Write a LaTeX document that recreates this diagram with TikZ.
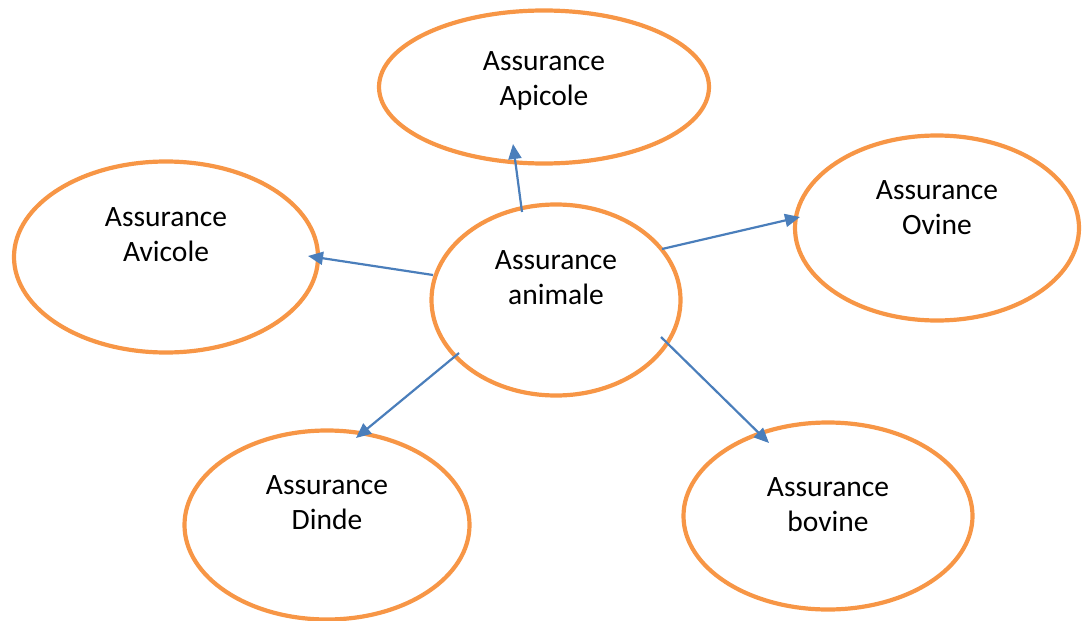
\documentclass[tikz,border=0pt]{standalone}
\usepackage{fontspec}
\setmainfont{Carlito}
\usetikzlibrary{shapes.geometric,arrows.meta}
\definecolor{bubble}{HTML}{F79646}
\definecolor{link}{HTML}{4A7EBB}
\tikzset{
  bubble/.style={ellipse, draw=bubble, line width=4.2pt, inner sep=0pt},
  lbl/.style={anchor=base, inner sep=0pt, font=\fontsize{29.5}{35}\selectfont},
  link/.style={draw=link, line width=2.2pt, -{Triangle[length=15pt,width=13pt]}}
}
\begin{document}
\begin{tikzpicture}[x=1pt,y=-1pt]
\useasboundingbox (0,0) rectangle (1082,621);

% bubbles
\node[bubble, minimum width=249pt, minimum height=191pt] (animale) at (556,300) {};
\node[bubble, minimum width=330pt, minimum height=153pt] (apicole) at (544,87) {};
\node[bubble, minimum width=304pt, minimum height=191pt] (avicole) at (166,257) {};
\node[bubble, minimum width=284pt, minimum height=185pt] (ovine) at (937,228) {};
\node[bubble, minimum width=285pt, minimum height=189pt] (dinde) at (327,525) {};
\node[bubble, minimum width=289pt, minimum height=187pt] (bovine) at (828,516) {};

% labels, two lines each
\node[lbl] (animaleA) at (556,269) {Assurance};
\node[lbl] (animaleB) at (556,304) {animale};
\node[lbl] (apicoleA) at (544,70) {Assurance};
\node[lbl] (apicoleB) at (544,105) {Apicole};
\node[lbl] (avicoleA) at (166,226) {Assurance};
\node[lbl] (avicoleB) at (166,261) {Avicole};
\node[lbl] (ovineA) at (937,199) {Assurance};
\node[lbl] (ovineB) at (937,234) {Ovine};
\node[lbl] (dindeA) at (327,494) {Assurance};
\node[lbl] (dindeB) at (327,529) {Dinde};
\node[lbl] (bovineA) at (828,496) {Assurance};
\node[lbl] (bovineB) at (828,531) {bovine};

% arrow ends
\coordinate (tApi) at (522,212);  \coordinate (hApi) at (513,144);
\coordinate (tAvi) at (433,275);  \coordinate (hAvi) at (308,256);
\coordinate (tOvi) at (662,249);  \coordinate (hOvi) at (800,217);
\coordinate (tDin) at (459,353);  \coordinate (hDin) at (356,438);
\coordinate (tBov) at (661,337);  \coordinate (hBov) at (769,443);

\draw[link] (tApi) -- (hApi);
\draw[link] (tAvi) -- (hAvi);
\draw[link] (tOvi) -- (hOvi);
\draw[link] (tDin) -- (hDin);
\draw[link] (tBov) -- (hBov);
\end{tikzpicture}
\end{document}
